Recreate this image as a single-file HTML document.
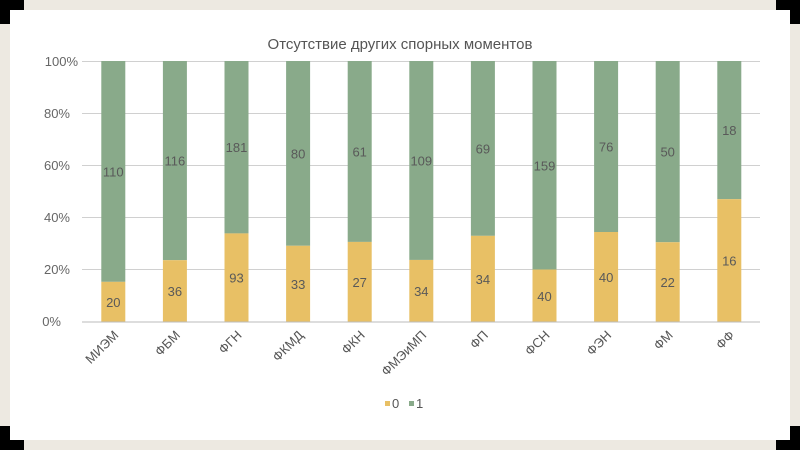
<!DOCTYPE html>
<html><head><meta charset="utf-8"><style>
html,body{margin:0;padding:0;background:#ede9e1;}
svg{display:block;}
text{font-family:"Liberation Sans",sans-serif;}
</style></head><body>
<svg width="800" height="450" xmlns="http://www.w3.org/2000/svg">
<rect x="0" y="0" width="800" height="450" fill="#ede9e1"/>
<rect x="10" y="10" width="780" height="430" fill="#ffffff"/>
<rect x="0" y="0" width="24" height="10" fill="#000"/><rect x="0" y="0" width="10" height="24" fill="#000"/>
<rect x="776" y="0" width="24" height="10" fill="#000"/><rect x="790" y="0" width="10" height="24" fill="#000"/>
<rect x="0" y="440" width="24" height="10" fill="#000"/><rect x="0" y="426" width="10" height="24" fill="#000"/>
<rect x="776" y="440" width="24" height="10" fill="#000"/><rect x="790" y="426" width="10" height="24" fill="#000"/>
<text x="400" y="49" font-size="15" fill="#555" text-anchor="middle">Отсутствие других спорных моментов</text>
<g stroke="#d0d0d0" stroke-width="1">
<line x1="82" x2="760" y1="61.5" y2="61.5"/><line x1="82" x2="760" y1="113.5" y2="113.5"/>
<line x1="82" x2="760" y1="165.5" y2="165.5"/><line x1="82" x2="760" y1="217.5" y2="217.5"/>
<line x1="82" x2="760" y1="269.5" y2="269.5"/>
</g>
<g font-size="13" fill="#666" text-anchor="end">
<text x="78" y="66">100%</text><text x="70" y="118">80%</text><text x="70" y="170">60%</text>
<text x="70" y="222">40%</text><text x="70" y="274">20%</text><text x="61" y="326">0%</text>
</g>
<g id="bars" font-size="13" fill="#595959" text-anchor="middle"></g>
<line x1="82" x2="760" y1="322" y2="322" stroke="#bbb" stroke-width="1"/>
<g id="xl" font-size="13" fill="#555" text-anchor="end"></g>
<rect x="385" y="401" width="5" height="5" fill="#e8c065"/>
<text x="392" y="408" font-size="13" fill="#555">0</text>
<rect x="409" y="401" width="5" height="5" fill="#89aa8a"/>
<text x="416" y="408" font-size="13" fill="#555">1</text>
<script>
(function(){
var d=[["МИЭМ",20,110],["ФБМ",36,116],["ФГН",93,181],["ФКМД",33,80],["ФКН",27,61],["ФМЭиМП",34,109],["ФП",34,69],["ФСН",40,159],["ФЭН",40,76],["ФМ",22,50],["ФФ",16,18]];
var g=document.getElementById('bars'),xl=document.getElementById('xl'),ns="http://www.w3.org/2000/svg";
function el(p,t,a,tx){var e=document.createElementNS(ns,t);for(var k in a)e.setAttribute(k,a[k]);if(tx!=null)e.textContent=tx;p.appendChild(e);return e;}
var T=61,B=322,H=B-T;
d.forEach(function(r,i){
 var cx=113.3+i*61.6,x=cx-12,f=r[1]/(r[1]+r[2]),yb=B-f*H;
 el(g,'rect',{x:x,y:T,width:24,height:yb-T,fill:'#89aa8a'});
 el(g,'rect',{x:x,y:yb,width:24,height:B-yb,fill:'#e8c065'});
 el(g,'text',{x:cx,y:(T+yb)/2+5},r[2]);
 el(g,'text',{x:cx,y:(yb+B)/2+5},r[1]);
 el(xl,'text',{x:cx+6,y:336,transform:'rotate(-45 '+(cx+6)+' 336)'},r[0]);
});
})();
</script>
</svg>
</body></html>
